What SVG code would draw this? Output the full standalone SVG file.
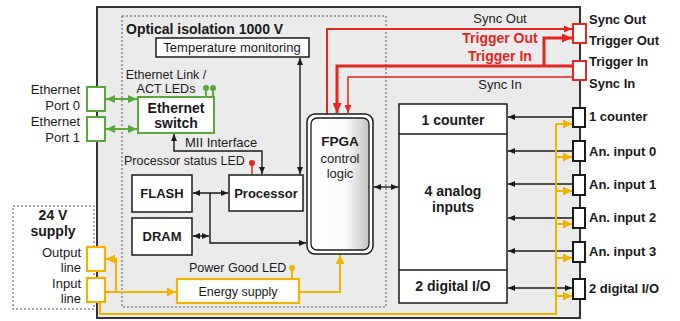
<svg xmlns="http://www.w3.org/2000/svg" width="680" height="321" viewBox="0 0 680 321">
<style>
text{font-family:"Liberation Sans",Arial,sans-serif;fill:#1a1a1a}
.r{font-size:13px}
.rs{font-size:12.5px}
.b{font-size:13px;font-weight:bold}
.b14{font-size:14px;font-weight:bold}
.box{fill:#fff;stroke:#1a1a1a;stroke-width:1.5}
.gbox{fill:#fff;stroke:#5aa83c;stroke-width:2}
.ybox{fill:#fff;stroke:#f0b400;stroke-width:2.2}
.rbox{fill:#fff;stroke:#e3261f;stroke-width:2}
.kbox{fill:#fff;stroke:#1a1a1a;stroke-width:2}
.dot{fill:none;stroke:#555;stroke-width:1;stroke-dasharray:2,2}
.k{fill:none;stroke:#1a1a1a;stroke-width:1.4}
.g{fill:none;stroke:#5aa83c;stroke-width:2}
.y{fill:none;stroke:#f0b400;stroke-width:2}
.rt{fill:none;stroke:#e3261f;stroke-width:2}
.rk{fill:none;stroke:#e3261f;stroke-width:3}
.rn{fill:none;stroke:#e3261f;stroke-width:1.5}
.red{fill:#e3261f}
.mid{text-anchor:middle}
.end{text-anchor:end}
</style>
<defs>
<marker id="ak" markerUnits="userSpaceOnUse" markerWidth="7" markerHeight="6" refX="7" refY="3" orient="auto-start-reverse"><path d="M0,0 L7,3 L0,6 z" fill="#1a1a1a"/></marker>
<marker id="ag" markerUnits="userSpaceOnUse" markerWidth="9" markerHeight="8" refX="9" refY="4" orient="auto-start-reverse"><path d="M0,0 L9,4 L0,8 z" fill="#5aa83c"/></marker>
<marker id="ay" markerUnits="userSpaceOnUse" markerWidth="9" markerHeight="9" refX="9" refY="4.5" orient="auto-start-reverse"><path d="M0,0 L9,4.5 L0,9 z" fill="#f0b400"/></marker>
<marker id="ar" markerUnits="userSpaceOnUse" markerWidth="8" markerHeight="7" refX="8" refY="3.5" orient="auto-start-reverse"><path d="M0,0 L8,3.5 L0,7 z" fill="#e3261f"/></marker>
<marker id="arb" markerUnits="userSpaceOnUse" markerWidth="10" markerHeight="9" refX="10" refY="4.5" orient="auto-start-reverse"><path d="M0,0 L10,4.5 L0,9 z" fill="#e3261f"/></marker>
<linearGradient id="fg" x1="0" y1="0" x2="1" y2="0">
<stop offset="0" stop-color="#fff"/><stop offset="0.6" stop-color="#fafafa"/><stop offset="1" stop-color="#c4c4c4"/>
</linearGradient>
</defs>

<g id="device">
<rect x="97" y="7" width="483" height="311" fill="#ebebeb" stroke="#333" stroke-width="2"/>
</g>
<g id="isolation">
<rect class="dot" x="122" y="16" width="264" height="291"/>
<text class="b14" x="126" y="34">Optical isolation 1000 V</text>
</g>
<g id="supply">
<rect class="dot" x="13" y="206" width="81" height="103"/>
<text class="b14 mid" x="53" y="220">24 V</text>
<text class="b14 mid" x="53" y="236">supply</text>
<text class="r end" x="81" y="257">Output</text>
<text class="r end" x="81" y="272">line</text>
<text class="r end" x="81" y="288">Input</text>
<text class="r end" x="81" y="303">line</text>
</g>

<g id="connectors">
<path class="rt" d="M327,114 V29 H572" marker-end="url(#ar)"/>
<path class="rk" d="M573,66 H337 V113" marker-end="url(#arb)"/>
<path class="rk" d="M544,66 V38 H572" marker-end="url(#arb)"/>
<path class="rn" d="M573,77 H348 V113" marker-end="url(#ar)"/>

<path class="g" d="M106,99 H137" marker-start="url(#ag)" marker-end="url(#ag)"/>
<path class="g" d="M106,129 H137" marker-start="url(#ag)" marker-end="url(#ag)"/>
<path class="g" d="M206,88 V97 M213,88 V97"/>

<path class="k" d="M174,134 V151 H262 V174" marker-start="url(#ak)" marker-end="url(#ak)"/>
<path class="k" d="M300,58 V174" marker-start="url(#ak)" marker-end="url(#ak)"/>
<path class="k" d="M193,193 H228" marker-start="url(#ak)" marker-end="url(#ak)"/>
<path class="k" d="M210,193 V243 H306" marker-end="url(#ak)"/>
<path class="k" d="M193,236 H209" marker-start="url(#ak)" marker-end="url(#ak)"/>
<path class="k" d="M374,187 H398" marker-start="url(#ak)" marker-end="url(#ak)"/>
<path class="k" d="M573,117 H508" marker-end="url(#ak)"/>
<path class="k" d="M573,151 H508" marker-end="url(#ak)"/>
<path class="k" d="M573,184 H508" marker-end="url(#ak)"/>
<path class="k" d="M573,218 H508" marker-end="url(#ak)"/>
<path class="k" d="M573,251 H508" marker-end="url(#ak)"/>
<path class="k" d="M508,288 H572" marker-start="url(#ak)" marker-end="url(#ak)"/>
<path class="rn" d="M252,163 V175"/>

<path class="y" d="M105,292 H176" marker-end="url(#ay)"/>
<path class="y" d="M116,292 V259 H106" marker-end="url(#ay)"/>
<path class="y" d="M100,302 V314 H556 V124"/>
<path class="y" d="M556,124 H572" marker-end="url(#ay)"/>
<path class="y" d="M556,157 H572" marker-end="url(#ay)"/>
<path class="y" d="M556,191 H572" marker-end="url(#ay)"/>
<path class="y" d="M556,224 H572" marker-end="url(#ay)"/>
<path class="y" d="M556,258 H572" marker-end="url(#ay)"/>
<path class="y" d="M556,296 H572" marker-end="url(#ay)"/>
<path class="y" d="M299,292 H340 V255" marker-end="url(#ay)"/>
<path class="y" d="M292,268 V279"/>
</g>

<g id="temperature">
<rect class="box" x="156" y="38" width="153" height="19"/>
<text class="r mid" x="232" y="52">Temperature monitoring</text>
</g>
<g id="ethernet-switch">
<text class="rs mid" x="166" y="79">Ethernet Link /</text>
<text class="rs mid" x="166" y="93">ACT LEDs</text>
<circle cx="206" cy="88" r="3" fill="#5aa83c"/>
<circle cx="213" cy="88" r="3" fill="#5aa83c"/>
<rect class="gbox" x="138" y="97" width="76" height="36"/>
<text class="b14 mid" x="176" y="113">Ethernet</text>
<text class="b14 mid" x="176" y="128">switch</text>
<text class="r" x="185" y="147">MII Interface</text>
</g>
<g id="port0">
<rect class="gbox" x="87" y="87" width="18" height="24"/>
<text class="r end" x="80" y="94">Ethernet</text>
<text class="r end" x="80" y="110">Port 0</text>
</g>
<g id="port1">
<rect class="gbox" x="87" y="117" width="18" height="24"/>
<text class="r end" x="80" y="126">Ethernet</text>
<text class="r end" x="80" y="142">Port 1</text>
</g>
<g id="processor">
<text class="rs" x="124" y="165">Processor status LED</text>
<circle cx="252" cy="163" r="3" class="red"/>
<rect class="box" x="229" y="175" width="74" height="36"/>
<text class="b mid" x="266" y="198">Processor</text>
</g>
<g id="flash">
<rect class="box" x="132" y="175" width="60" height="37"/>
<text class="b mid" x="162" y="198">FLASH</text>
</g>
<g id="dram">
<rect class="box" x="132" y="218" width="60" height="37"/>
<text class="b mid" x="162" y="241">DRAM</text>
</g>
<g id="fpga">
<rect x="307" y="114" width="66" height="140" rx="8" fill="#fff" stroke="#1a1a1a" stroke-width="1.5"/>
<rect x="311" y="118" width="58" height="132" rx="6" fill="url(#fg)" stroke="#1a1a1a" stroke-width="1.3"/>
<text class="b mid" x="340" y="146" style="font-size:13.5px">FPGA</text>
<text class="r mid" x="340" y="163">control</text>
<text class="r mid" x="340" y="178">logic</text>
</g>
<g id="energy">
<text class="rs" x="189" y="272">Power Good LED</text>
<circle cx="292" cy="268" r="3" fill="#f0b400"/>
<rect class="ybox" x="177" y="279" width="122" height="24"/>
<text class="rs mid" x="238" y="296">Energy supply</text>
</g>
<g id="io">
<rect class="box" x="399" y="104" width="108" height="199"/>
<path d="M399,134 H507 M399,270 H507" stroke="#1a1a1a" stroke-width="1.5"/>
<text class="b14 mid" x="453" y="125">1 counter</text>
<text class="b14 mid" x="453" y="196">4 analog</text>
<text class="b14 mid" x="453" y="212">inputs</text>
<text class="b14 mid" x="453" y="291">2 digital I/O</text>
</g>
<g id="sync-labels">
<text class="r mid" x="500" y="23">Sync Out</text>
<text class="b14 mid" x="500" y="43" style="fill:#e3261f">Trigger Out</text>
<text class="b14 mid" x="500" y="61" style="fill:#e3261f">Trigger In</text>
<text class="r mid" x="500" y="89">Sync In</text>
</g>
<g id="sync-out-port">
<rect class="rbox" x="573" y="24" width="13" height="19"/>
<text class="b" x="589" y="24">Sync Out</text>
<text class="b" x="589" y="45">Trigger Out</text>
</g>
<g id="sync-in-port">
<rect class="rbox" x="573" y="61" width="13" height="19"/>
<text class="b" x="589" y="66">Trigger In</text>
<text class="b" x="589" y="88">Sync In</text>
</g>
<g id="counter-port"><rect class="kbox" x="573" y="108" width="12" height="19"/><text class="b" x="589" y="121">1 counter</text></g>
<g id="an0-port"><rect class="kbox" x="573" y="141" width="12" height="20"/><text class="b" x="589" y="156">An. input 0</text></g>
<g id="an1-port"><rect class="kbox" x="573" y="175" width="12" height="20"/><text class="b" x="589" y="189">An. input 1</text></g>
<g id="an2-port"><rect class="kbox" x="573" y="208" width="12" height="20"/><text class="b" x="589" y="222">An. input 2</text></g>
<g id="an3-port"><rect class="kbox" x="573" y="242" width="12" height="20"/><text class="b" x="589" y="256">An. input 3</text></g>
<g id="dio-port"><rect class="kbox" x="573" y="279" width="12" height="20"/><text class="b" x="589" y="293">2 digital I/O</text></g>
<g id="output-line"><rect class="ybox" x="87" y="247" width="18" height="24"/></g>
<g id="input-line"><rect class="ybox" x="87" y="278" width="18" height="24"/></g>
</svg>
